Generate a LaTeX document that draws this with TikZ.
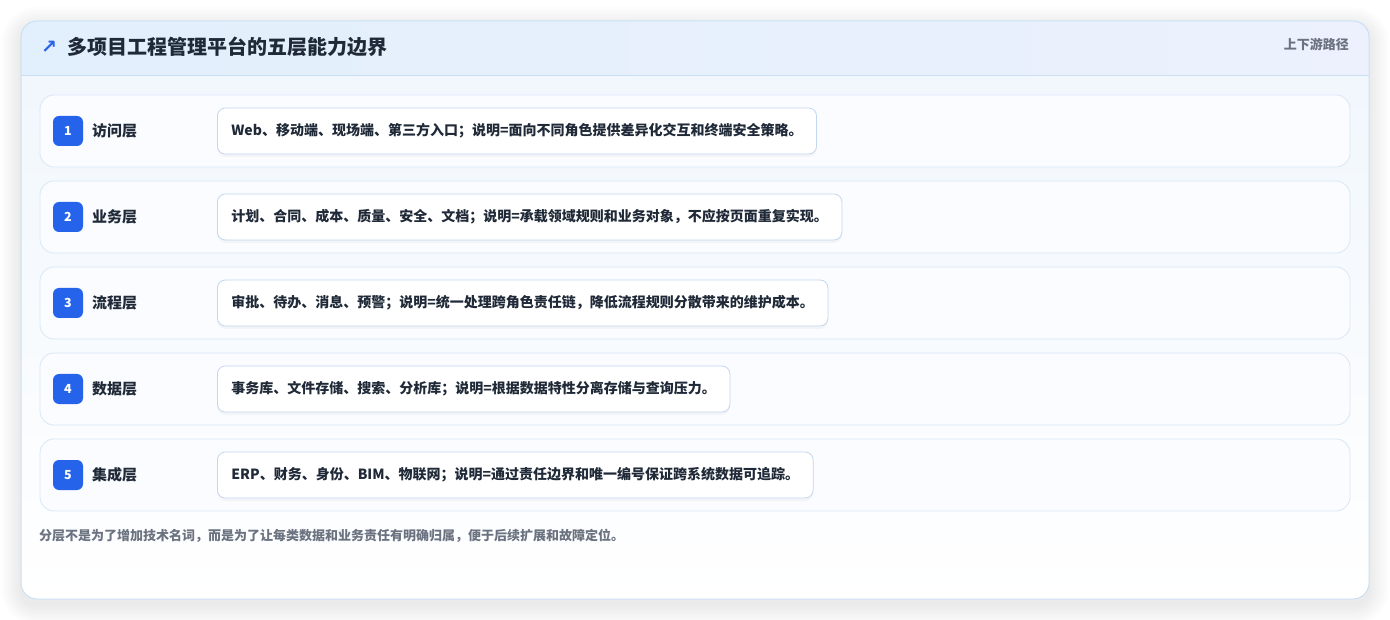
\documentclass[tikz,border=0pt]{standalone}
\usepackage{fontspec}
\setmainfont{Noto Sans CJK SC}
\newfontfamily\symfont{DejaVu Sans}
\usepackage{tikz}
\usetikzlibrary{positioning}
\usetikzlibrary{shadows}
\definecolor{cardline}{HTML}{C9E0F3}
\definecolor{headleft}{HTML}{E2EFFC}
\definecolor{headright}{HTML}{ECF1FD}
\definecolor{bodytop}{HTML}{F1F7FD}
\definecolor{rowfill}{HTML}{FAFCFF}
\definecolor{rowline}{HTML}{DAE7F5}
\definecolor{boxline}{HTML}{C3D7EE}
\definecolor{badgeblue}{HTML}{2563EB}
\definecolor{inkdark}{HTML}{1F2937}
\definecolor{inkgrey}{HTML}{6B7280}
\newcommand{\layerrow}[3]{% y, number, name
  \draw[rowbox] (40,#1-36) rectangle (1350,#1+36);
  \node[badge] (b#2) at (68,#1) {#2};
  \node[layername, anchor=west] (n#2) at (90,#1) {#3};
}
\tikzstyle{rowbox} = [draw=rowline, fill=rowfill, rounded corners=14, line width=0.8]
\tikzstyle{badge} = [fill=badgeblue, rounded corners=6, minimum size=30, inner sep=0, text=white, font=\fontsize{12.5}{15}\selectfont\bfseries]
\tikzstyle{layername} = [inner sep=2, text=inkdark, font=\fontsize{15}{18}\selectfont\bfseries]
\tikzstyle{content} = [draw=boxline, fill=white, rounded corners=8, line width=0.8, minimum height=46, inner xsep=14, inner ysep=0, text=inkdark, font=\fontsize{14}{17}\selectfont\bfseries, drop shadow={opacity=0.06, shadow xshift=0pt, shadow yshift=-3pt}]

\begin{document}
\begin{tikzpicture}[x=1pt,y=-1pt]
	\useasboundingbox (0,0) rectangle (1390,620);
	% soft shadow of the card
	\foreach \s in {2,4,...,20}
		\fill[black, opacity=0.006, rounded corners=16+\s] (21-\s,21-\s+6) rectangle (1369+\s,599+\s+6);
	\fill[white, rounded corners=16] (21,21) rectangle (1369,599);
	\begin{scope}
		\clip[rounded corners=16] (21,21) rectangle (1369,599);
		\shade[top color=bodytop, bottom color=white] (21,75) rectangle (1369,599);
		\shade[left color=headleft, right color=headright] (21,21) rectangle (1369,75);
	\end{scope}
	\draw[cardline, line width=0.8] (21,75) -- (1369,75);
	\draw[cardline, line width=1, rounded corners=16] (21,21) rectangle (1369,599);
	
	% header
	\node[text=badgeblue, font=\symfont\fontsize{19}{20}\selectfont\bfseries] (arrow) at (49,47) {↗};
	\node[anchor=west, text=inkdark, font=\fontsize{20}{24}\selectfont\bfseries, inner sep=0] (title) at (67,47) {多项目工程管理平台的五层能力边界};
	\node[anchor=east, text=inkgrey, font=\fontsize{13}{15}\selectfont\bfseries, inner sep=0] (route) at (1349,44) {上下游路径};
	
	% rows
	\layerrow{131}{1}{访问层}
	\node[content, anchor=west] (c1) at (217,131) {Web、移动端、现场端、第三方入口；说明=面向不同角色提供差异化交互和终端安全策略。};
	\layerrow{217}{2}{业务层}
	\node[content, anchor=west] (c2) at (217,217) {计划、合同、成本、质量、安全、文档；说明=承载领域规则和业务对象，不应按页面重复实现。};
	\layerrow{303}{3}{流程层}
	\node[content, anchor=west] (c3) at (217,303) {审批、待办、消息、预警；说明=统一处理跨角色责任链，降低流程规则分散带来的维护成本。};
	\layerrow{389}{4}{数据层}
	\node[content, anchor=west] (c4) at (217,389) {事务库、文件存储、搜索、分析库；说明=根据数据特性分离存储与查询压力。};
	\layerrow{475}{5}{集成层}
	\node[content, anchor=west] (c5) at (217,475) {ERP、财务、身份、BIM、物联网；说明=通过责任边界和唯一编号保证跨系统数据可追踪。};
	
	% footnote
	\node[anchor=west, text=inkgrey, font=\fontsize{13}{15}\selectfont\bfseries, inner sep=0] (note) at (39,536) {分层不是为了增加技术名词，而是为了让每类数据和业务责任有明确归属，便于后续扩展和故障定位。};
\end{tikzpicture}
\end{document}
